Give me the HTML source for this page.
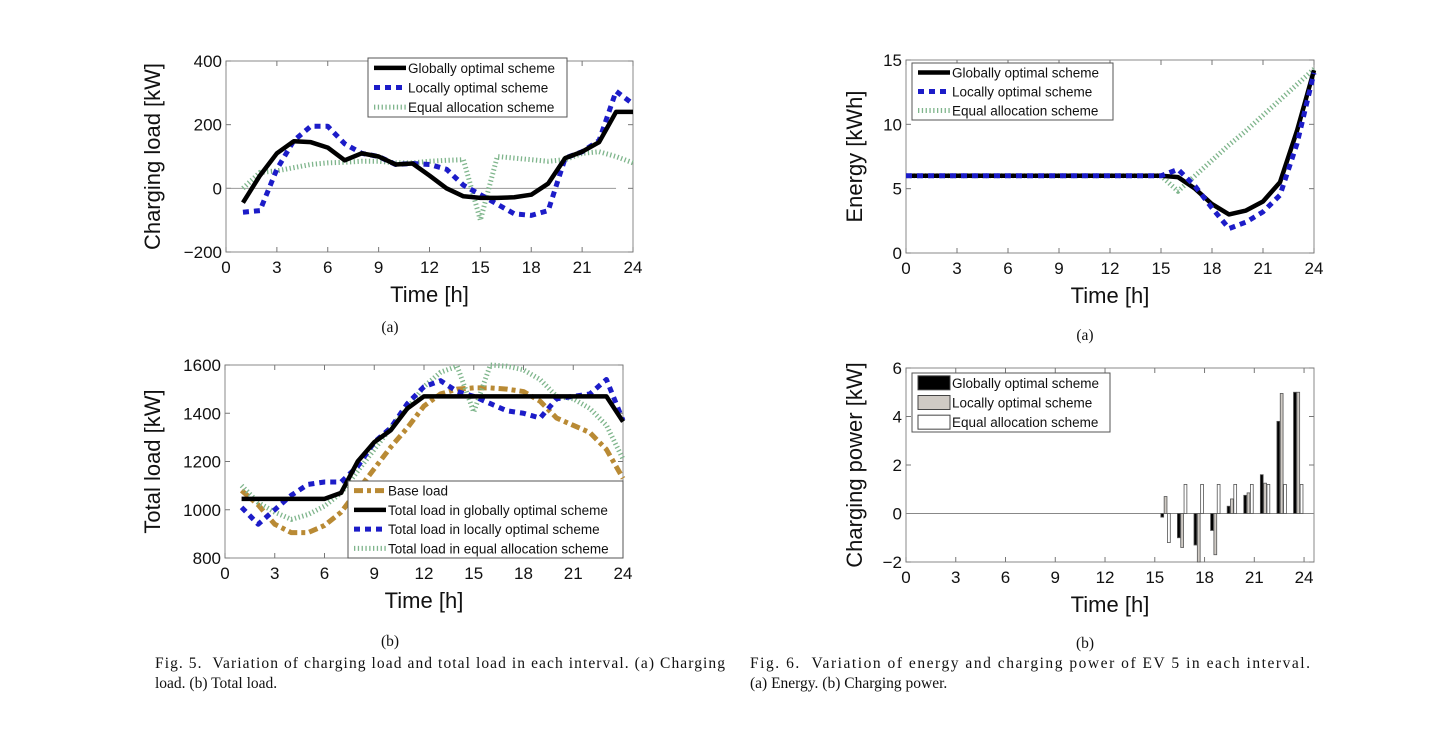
<!DOCTYPE html>
<html><head><meta charset="utf-8"><style>
body{margin:0;background:#fff;width:1434px;height:750px;overflow:hidden}
svg{display:block}
.t{font-family:"Liberation Sans",sans-serif;fill:#111}
.cap{font-family:"Liberation Serif",serif;font-size:15.5px;fill:#111}
</style></head><body>
<svg id="s" width="1434" height="750" xmlns="http://www.w3.org/2000/svg">
<text class="cap" x="155" y="668" textLength="570" lengthAdjust="spacing">Fig. 5.&#160;&#160;Variation of charging load and total load in each interval. (a) Charging</text>
<text class="cap" x="155" y="688">load. (b) Total load.</text>
<text class="cap" x="750" y="668" textLength="560" lengthAdjust="spacing">Fig. 6.&#160;&#160;Variation of energy and charging power of EV 5 in each interval.</text>
<text class="cap" x="750" y="688">(a) Energy. (b) Charging power.</text>
<text class="cap" x="390" y="332" text-anchor="middle">(a)</text>
<text class="cap" x="390" y="646" text-anchor="middle">(b)</text>
<text class="cap" x="1085" y="340" text-anchor="middle">(a)</text>
<text class="cap" x="1085" y="648" text-anchor="middle">(b)</text>
</svg>
<script>
const hours=[1,2,3,4,5,6,7,8,9,10,11,12,13,14,15,16,17,18,19,20,21,22,23,24];
const chGlobal=[-45,40,110,148,145,128,88,110,100,75,78,40,0,-25,-30,-30,-28,-20,15,95,115,145,240,240];
const chLocal=[-75,-70,60,150,195,195,140,110,100,75,78,75,60,10,-20,-50,-80,-85,-70,95,115,150,305,265];
const chEqual=[0,50,55,65,75,80,82,85,85,80,80,85,88,90,-100,100,95,90,85,90,110,115,100,80];
const tlBase=[1080,1020,940,905,905,935,990,1080,1170,1260,1340,1430,1480,1500,1505,1505,1500,1490,1450,1380,1350,1320,1250,1130];
const tlGlobal=[1045,1045,1045,1045,1045,1045,1070,1200,1280,1330,1420,1470,1470,1470,1470,1470,1470,1470,1470,1470,1470,1470,1470,1365];
const tlLocal=[1010,940,1000,1060,1105,1115,1115,1180,1280,1340,1440,1510,1535,1490,1470,1440,1410,1400,1380,1460,1470,1480,1540,1370];
const tlEqual=[1100,1030,990,960,980,1015,1070,1160,1250,1340,1420,1510,1570,1595,1405,1600,1595,1580,1540,1470,1460,1420,1350,1210];
const eHours=[0,1,2,3,4,5,6,7,8,9,10,11,12,13,14,15,16,17,18,19,20,21,22,23,24];
const enGlobal=[6,6,6,6,6,6,6,6,6,6,6,6,6,6,6,6,5.9,5.0,3.8,3.0,3.3,4.0,5.5,9.5,14.2];
const enLocal=[6,6,6,6,6,6,6,6,6,6,6,6,6,6,6,6,6.5,5.2,3.5,1.9,2.4,3.2,4.5,8.5,14];
const enEqual=[6,6,6,6,6,6,6,6,6,6,6,6,6,6,6,6,4.8,6.0,7.2,8.4,9.5,10.7,11.9,13.1,14.3];
const pHours=[16,17,18,19,20,21,22,23,24];
const pGlobal=[-0.15,-1.0,-1.3,-0.7,0.3,0.75,1.6,3.8,5.0];
const pLocal=[0.7,-1.4,-2.0,-1.7,0.6,0.85,1.25,4.95,5.0];
const pEqual=[-1.2,1.2,1.2,1.2,1.2,1.2,1.2,1.2,1.2];
const xTicks=[0,3,6,9,12,15,18,21,24];

const S=document.getElementById('s');const NS='http://www.w3.org/2000/svg';
function mk(tag,at,parent){const e=document.createElementNS(NS,tag);for(const k in at)e.setAttribute(k,at[k]);(parent||S).appendChild(e);return e;}
const STY={
 global:{stroke:'#000','stroke-width':4.5},
 local:{stroke:'#1c1cc8','stroke-width':5,'stroke-dasharray':'6,5'},
 equal:{stroke:'#7fb58c','stroke-width':5,'stroke-dasharray':'1.3,2.5'},
 base:{stroke:'#b98a34','stroke-width':5,'stroke-dasharray':'9,4,4,4'}
};
function axes(o){
 const g=mk('g',{});
 
 
 const X=v=>o.x0+(v-o.xmin)/(o.xmax-o.xmin)*(o.x1-o.x0);
 const Y=v=>o.y1-(v-o.ymin)/(o.ymax-o.ymin)*(o.y1-o.y0);
 const box=mk('rect',{x:o.x0,y:o.y0,width:o.x1-o.x0,height:o.y1-o.y0,fill:'#fff',stroke:'#888','stroke-width':1},g);
 
 
 xTicks.forEach(t=>{const x=X(t);
  mk('line',{x1:x,x2:x,y1:o.y1,y2:o.y1-5,stroke:'#777'},g);mk('line',{x1:x,x2:x,y1:o.y0,y2:o.y0+5,stroke:'#777'},g);
  const tx=mk('text',{x:x,y:o.y1+21,'text-anchor':'middle',class:'t','font-size':17},g);tx.textContent=t;
  
  });
 o.yTicks.forEach(t=>{const y=Y(t);
  mk('line',{x1:o.x0,x2:o.x0+5,y1:y,y2:y,stroke:'#777'},g);mk('line',{x1:o.x1,x2:o.x1-5,y1:y,y2:y,stroke:'#777'},g);
  const tx=mk('text',{x:o.x0-4,y:y+6,'text-anchor':'end',class:'t','font-size':17},g);tx.textContent=String(t).replace('-','\u2212');
  
  });
 const xt=mk('text',{x:(o.x0+o.x1)/2,y:o.y1+50,'text-anchor':'middle',class:'t','font-size':22},g);xt.textContent='Time [h]';
 
 
 const cy=(o.y0+o.y1)/2;
 const yt=mk('text',{x:o.ytx,y:cy,'text-anchor':'middle',class:'t','font-size':22,transform:`rotate(-90 ${o.ytx} ${cy})`},g);yt.textContent=o.ytitle;
 
 
 return {g,X,Y};
}
function line(a,xs,ys,sty,name){
 const p=mk('polyline',Object.assign({points:xs.map((x,i)=>a.X(x)+','+a.Y(ys[i])).join(' '),fill:'none','stroke-linejoin':'round'},STY[sty]),a.g);
 
 
}
function legend(a,x,y,w,h,items,name,bars){
 const lg=mk('g',{},a.g);
 
 
 mk('rect',{x:x,y:y,width:w,height:h,fill:'#fff',stroke:'#555'},lg);
 const step=h/items.length;
 items.forEach((it,i)=>{const cy=y+step*(i+0.5);
  if(bars){mk('rect',{x:x+6,y:cy-7,width:32,height:14,fill:it[0],stroke:'#444'},lg);}
  else mk('line',Object.assign({x1:x+6,x2:x+38,y1:cy,y2:cy},STY[it[0]]),lg);
  const t=mk('text',{x:x+40,y:cy+5,class:'t','font-size':13.5},lg);t.textContent=it[1];
  
  });
}
// Fig 5a
const a1=axes({name:'charging-load-chart',x0:226,x1:633,y0:61,y1:252,xmin:0,xmax:24,ymin:-200,ymax:400,yTicks:[-200,0,200,400],ytitle:'Charging load [kW]',ytx:160});
mk('line',{x1:a1.X(0),x2:a1.X(23),y1:a1.Y(0),y2:a1.Y(0),stroke:'#999'},a1.g);
line(a1,hours,chEqual,'equal','series-equal');line(a1,hours,chLocal,'local','series-local');line(a1,hours,chGlobal,'global','series-global');
legend(a1,368,58,199,59,[['global','Globally optimal scheme'],['local','Locally optimal scheme'],['equal','Equal allocation scheme']],'legend-5a');
// Fig 5b
const a2=axes({name:'total-load-chart',x0:225,x1:623,y0:365,y1:558,xmin:0,xmax:24,ymin:800,ymax:1600,yTicks:[800,1000,1200,1400,1600],ytitle:'Total load [kW]',ytx:160});
line(a2,hours,tlBase,'base','series-base');line(a2,hours,tlEqual,'equal','series-equal');line(a2,hours,tlLocal,'local','series-local');line(a2,hours,tlGlobal,'global','series-global');
legend(a2,348,481,275,77,[['base','Base load'],['global','Total load in globally optimal scheme'],['local','Total load in locally optimal scheme'],['equal','Total load in equal allocation scheme']],'legend-5b');
// Fig 6a
const a3=axes({name:'energy-chart',x0:906,x1:1314,y0:60,y1:253,xmin:0,xmax:24,ymin:0,ymax:15,yTicks:[0,5,10,15],ytitle:'Energy [kWh]',ytx:862});
line(a3,eHours,enEqual,'equal','series-equal');line(a3,eHours,enGlobal,'global','series-global');line(a3,eHours,enLocal,'local','series-local');
legend(a3,912,63,201,57,[['global','Globally optimal scheme'],['local','Locally optimal scheme'],['equal','Equal allocation scheme']],'legend-6a');
// Fig 6b
const a4=axes({name:'charging-power-chart',x0:906,x1:1314,y0:368,y1:562,xmin:0,xmax:24.6,ymin:-2,ymax:6,yTicks:[-2,0,2,4,6],ytitle:'Charging power [kW]',ytx:862});
mk('line',{x1:a4.X(0),x2:a4.X(24.6),y1:a4.Y(0),y2:a4.Y(0),stroke:'#888'},a4.g);
const bw=a4.X(0.17)-a4.X(0);
[[pGlobal,'#000','bar-global',-0.2],[pLocal,'#cfcac4','bar-local',0],[pEqual,'#fff','bar-equal',0.2]].forEach(s=>{
 pHours.forEach((h,i)=>{const v=s[0][i];const cx=a4.X(h-0.35+s[3]);const y=Math.min(a4.Y(v),a4.Y(0));
  const r=mk('rect',{x:cx-bw/2,y:y,width:bw,height:Math.abs(a4.Y(v)-a4.Y(0)),fill:s[1],stroke:'#555','stroke-width':0.8},a4.g);
  
  });
});
legend(a4,912,373,198,59,[['#000','Globally optimal scheme'],['#cfcac4','Locally optimal scheme'],['#fff','Equal allocation scheme']],'legend-6b',true);
</script>
</body></html>
